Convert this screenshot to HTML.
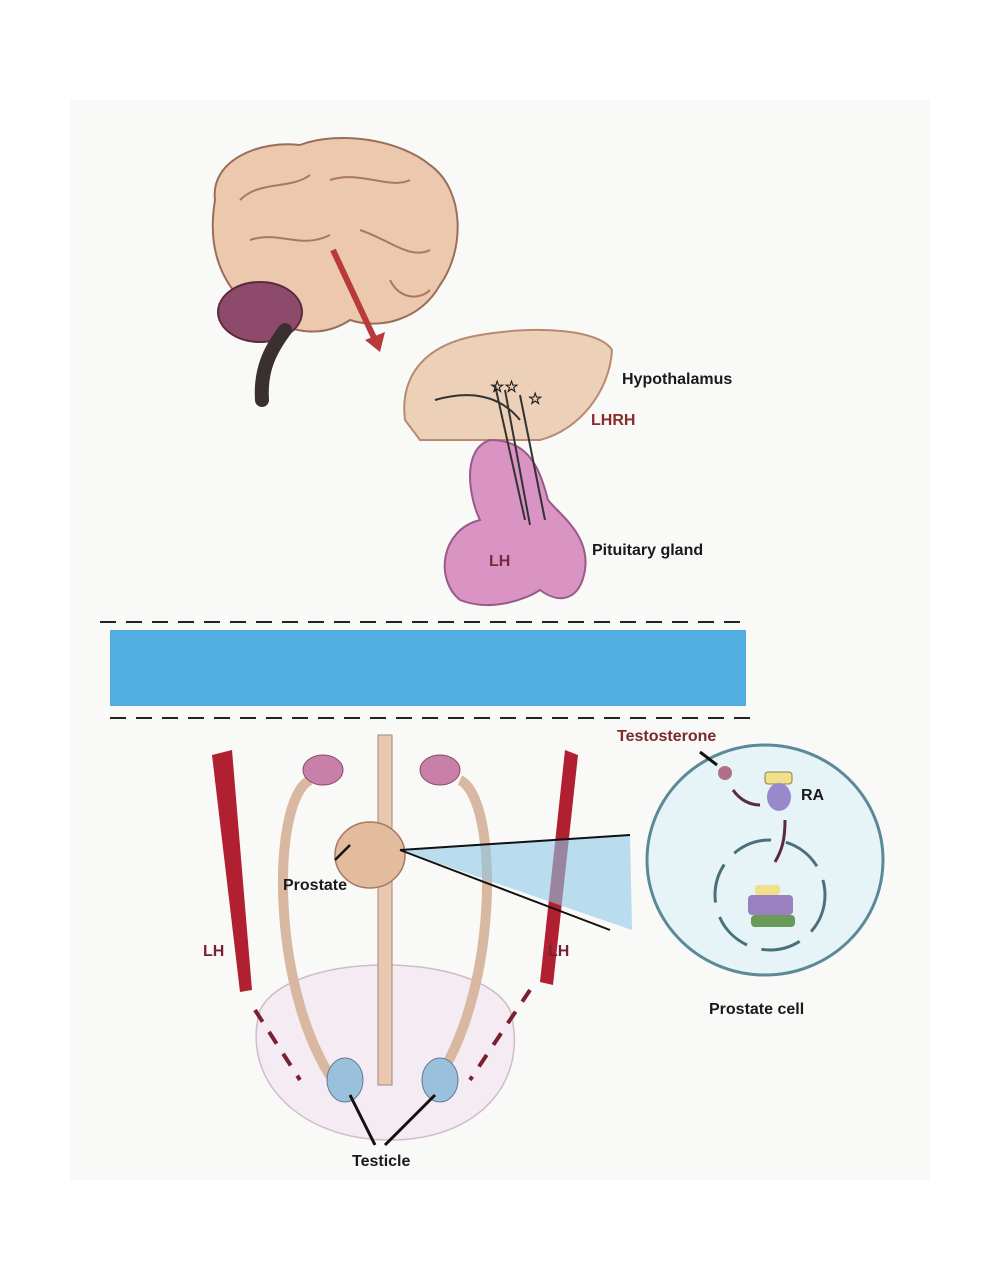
<!DOCTYPE html>
<html><head><meta charset="utf-8"><style>
html,body{margin:0;padding:0;background:#fff;}
svg{display:block}
text{font-family:"Liberation Sans",sans-serif;font-weight:bold;font-size:16px;fill:#1a1a1a}
</style></head><body>
<svg width="1000" height="1280" viewBox="0 0 1000 1280" xmlns="http://www.w3.org/2000/svg">
<rect width="1000" height="1280" fill="#ffffff"/>
<rect x="70" y="100" width="860" height="1080" fill="#f9f9f8"/>
<!-- brain -->
<path d="M215,200 C210,160 260,140 300,145 C340,130 400,140 430,165 C465,190 465,250 440,285 C420,320 380,330 350,320 C320,340 290,330 270,320 C230,300 205,260 215,200Z" fill="#ecc9ae" stroke="#9a6e58" stroke-width="2"/>
<path d="M240,200 C260,180 290,190 310,175 M330,180 C360,170 390,190 410,180 M250,240 C280,230 300,250 330,235 M360,230 C390,240 410,260 430,250 M390,280 C400,300 420,300 430,290" fill="none" stroke="#a87860" stroke-width="2"/>
<ellipse cx="260" cy="312" rx="42" ry="30" fill="#8e4a6a" stroke="#5a2a40" stroke-width="2"/>
<path d="M285,330 C270,350 260,370 262,400" stroke="#3a3030" stroke-width="14" fill="none" stroke-linecap="round"/>
<path d="M333,250 L375,340" stroke="#b83a3a" stroke-width="6"/>
<polygon points="365,340 385,332 380,352" fill="#b83a3a"/>
<!-- hypothalamus -->
<path d="M405,420 C400,380 420,345 480,335 C540,325 600,330 612,350 C610,390 580,430 540,440 L420,440 Z" fill="#ecd0b8" stroke="#b88a70" stroke-width="2"/>
<!-- pituitary -->
<path d="M490,440 C460,450 470,500 480,520 C440,530 435,580 460,600 C490,612 525,600 540,590 C560,605 580,600 585,570 C590,535 560,515 548,500 C540,470 530,440 490,440Z" fill="#d994c4" stroke="#9a5a88" stroke-width="2"/>
<path d="M435,400 C470,390 500,395 520,420 M495,385 L525,520 M505,390 L530,525 M520,395 L545,520" stroke="#333" stroke-width="2" fill="none"/>
<text x="490" y="392" font-size="14">☆☆</text><text x="528" y="404" font-size="14">☆</text>
<text x="622" y="384">Hypothalamus</text>
<text x="591" y="425" style="fill:#8a2b2b">LHRH</text>
<text x="489" y="566" style="fill:#7a2b3b">LH</text>
<text x="592" y="555">Pituitary gland</text>
<!-- blood band -->
<line x1="100" y1="622" x2="750" y2="622" stroke="#222" stroke-width="2" stroke-dasharray="16,10"/>
<rect x="110" y="630" width="636" height="76" fill="#52aee0"/>
<line x1="110" y1="718" x2="752" y2="718" stroke="#222" stroke-width="2" stroke-dasharray="16,10"/>
<!-- lower anatomy -->
<path d="M260,1010 C240,1080 300,1140 390,1140 C480,1140 530,1080 510,1010 C480,950 290,950 260,1010Z" fill="#f5ebf3" stroke="#d0bcc8" stroke-width="1.5"/>
<rect x="378" y="735" width="14" height="350" fill="#e8c8b0" stroke="#a88870"/>
<path d="M310,780 C270,800 270,1000 340,1090 M460,780 C500,800 500,1000 430,1090" fill="none" stroke="#d8b8a0" stroke-width="10"/>
<ellipse cx="323" cy="770" rx="20" ry="15" fill="#c880a8" stroke="#8a4a6a"/>
<ellipse cx="440" cy="770" rx="20" ry="15" fill="#c880a8" stroke="#8a4a6a"/>
<ellipse cx="370" cy="855" rx="35" ry="33" fill="#e2bc9c" stroke="#a87860" stroke-width="1.5"/>
<ellipse cx="345" cy="1080" rx="18" ry="22" fill="#9ac0dc" stroke="#5a7a9a"/>
<ellipse cx="440" cy="1080" rx="18" ry="22" fill="#9ac0dc" stroke="#5a7a9a"/>
<polygon points="212,755 232,750 252,990 240,992" fill="#b02030"/>
<polygon points="565,750 578,755 553,985 540,982" fill="#b02030"/>
<path d="M255,1010 L300,1080 M530,990 L470,1080" stroke="#7a2030" stroke-width="4" stroke-dasharray="14,12"/>
<polygon points="400,850 630,835 632,930" fill="#8ec8e8" opacity="0.6"/>
<path d="M400,850 L630,835 M400,850 L610,930" stroke="#111" stroke-width="2"/>
<path d="M335,860 L350,845" stroke="#111" stroke-width="2.5"/>
<path d="M350,1095 L375,1145 M435,1095 L385,1145" stroke="#111" stroke-width="3"/>
<text x="283" y="890">Prostate</text>
<text x="203" y="956" style="fill:#7a2030">LH</text>
<text x="548" y="956" style="fill:#7a2030">LH</text>
<text x="352" y="1166">Testicle</text>
<!-- cell -->
<ellipse cx="765" cy="860" rx="118" ry="115" fill="#e6f4f8" stroke="#5a8a98" stroke-width="3"/>
<circle cx="770" cy="895" r="55" fill="none" stroke="#4a7078" stroke-width="3" stroke-dasharray="40,15"/>
<line x1="700" y1="752" x2="717" y2="765" stroke="#111" stroke-width="3"/>
<circle cx="725" cy="773" r="7" fill="#b07088"/>
<path d="M733,790 C740,800 750,805 760,805" stroke="#5a2a40" stroke-width="3" fill="none"/>
<rect x="765" y="772" width="27" height="12" rx="3" fill="#f0e08a" stroke="#8a8050"/>
<ellipse cx="779" cy="797" rx="12" ry="14" fill="#9a88cc"/>
<path d="M785,820 C785,840 782,850 775,862" stroke="#5a2a40" stroke-width="3" fill="none"/>
<rect x="755" y="885" width="25" height="10" rx="3" fill="#f0e08a"/>
<rect x="748" y="895" width="45" height="20" rx="4" fill="#9a80c0"/>
<rect x="751" y="915" width="44" height="12" rx="4" fill="#6a9a5a"/>
<text x="617" y="741" style="fill:#7a2a2a">Testosterone</text>
<text x="801" y="800">RA</text>
<text x="709" y="1014">Prostate cell</text>
</svg>
</body></html>
